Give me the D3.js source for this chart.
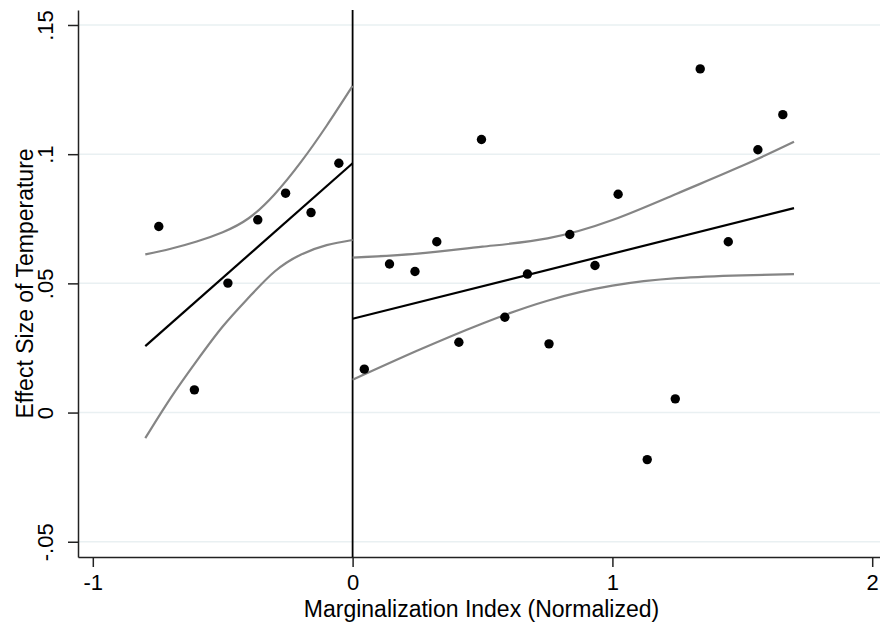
<!DOCTYPE html>
<html>
<head>
<meta charset="utf-8">
<script src="https://cdn.jsdelivr.net/npm/d3@7"></script>
<style>
	body { margin: 0; background: #fff; }
	svg { display: block; }
	text { font-family: "Liberation Sans", Arial, sans-serif; fill: #000; }
</style>
</head>
<body>
<div id="chart"></div>
<script>
// x tick values and their printed labels
let xTicks		= [-1, 0, 1, 2];
let xLabels		= ['-1', '0', '1', '2'];
let yTicks		= [-0.05, 0, 0.05, 0.1, 0.15];
let yLabels		= ['-.05', '0', '.05', '.1', '.15'];

// scatter points, below 0 and above 0
let leftX		= [-0.746, -0.609, -0.480, -0.365, -0.258, -0.160, -0.053];
let leftY		= [0.0720, 0.0088, 0.0501, 0.0746, 0.0849, 0.0774, 0.0965];
let rightX		= [0.045, 0.142, 0.240, 0.324, 0.409, 0.496, 0.586, 0.673, 0.756, 0.836, 0.933, 1.022, 1.134, 1.242, 1.338, 1.446, 1.560, 1.656];
let rightY		= [0.0168, 0.0575, 0.0546, 0.0661, 0.0272, 0.1057, 0.0369, 0.0536, 0.0266, 0.0689, 0.0569, 0.0845, -0.0182, 0.0053, 0.1330, 0.0661, 0.1017, 0.1153];

// fitted lines (end points)
let leftFitX	= [-0.798, 0];
let leftFitY	= [0.0257, 0.0965];
let rightFitX	= [0, 1.699];
let rightFitY	= [0.0363, 0.0791];

// confidence bands
let leftCiX		= [-0.798, -0.7, -0.6, -0.5, -0.4, -0.3, -0.2, -0.1, 0];
let leftCiHi	= [0.0612, 0.0634, 0.0662, 0.0698, 0.0752, 0.0845, 0.0968, 0.1110, 0.1264];
let leftCiLo	= [-0.0099, 0.0057, 0.0200, 0.0333, 0.0445, 0.0546, 0.0611, 0.0648, 0.0668];
let rightCiX	= [0, 0.25, 0.5, 0.75, 1.0, 1.25, 1.5, 1.699];
let rightCiHi	= [0.0600, 0.0615, 0.0642, 0.0674, 0.0745, 0.0848, 0.0955, 0.1048];
let rightCiLo	= [0.0127, 0.0240, 0.0345, 0.0433, 0.0491, 0.0520, 0.0531, 0.0536];

let canvasWidth		= 880;
let canvasHeight	= 627;
let margin			= { top: 10, right: 0, bottom: 70, left: 78 };
let width			= canvasWidth - margin.left - margin.right;
let height			= canvasHeight - margin.top - margin.bottom;

let x	= d3.scaleLinear().domain([-1.057, 2.03]).range([0, width]);
let y	= d3.scaleLinear().domain([-0.0559, 0.1558]).range([height, 0]);

let svg = d3.select('#chart').append('svg')
	.attr('width', canvasWidth)
	.attr('height', canvasHeight);

let canvas = svg.append('g')
	.attr('transform', 'translate(' + margin.left + ',' + margin.top + ')');

// grid lines
canvas.append('g').selectAll('line').data(yTicks).enter().append('line')
	.attr('x1', 0)
	.attr('x2', width)
	.attr('y1', d => y(d))
	.attr('y2', d => y(d))
	.style('stroke', '#e9f0f2')
	.style('stroke-width', '1.5px');

// axes
let yAxis = canvas.append('g')
	.call(d3.axisLeft(y).tickValues(yTicks).tickFormat((d, i) => yLabels[i]).tickSize(10).tickSizeOuter(0));
let xAxis = canvas.append('g')
	.attr('transform', 'translate(0,' + height + ')')
	.call(d3.axisBottom(x).tickValues(xTicks).tickFormat((d, i) => xLabels[i]).tickSize(10).tickSizeOuter(0));

[xAxis, yAxis].forEach(a => {
	a.attr('font-size', null).attr('font-family', null);
	a.select('.domain').style('stroke', '#222').style('stroke-width', '1.5px');
	a.selectAll('.tick line').style('stroke', '#222').style('stroke-width', '1.5px');
	a.selectAll('.tick text').style('font-size', '22px').style('fill', '#000');
});

xAxis.selectAll('.tick text').attr('y', 33).attr('dy', 0);
yAxis.selectAll('.tick text')
	.attr('x', 0)
	.attr('dy', 0)
	.attr('text-anchor', 'middle')
	.attr('transform', 'translate(-25,0) rotate(-90)');

// reference line at 0
canvas.append('line')
	.attr('x1', x(0))
	.attr('x2', x(0))
	.attr('y1', 0)
	.attr('y2', height)
	.style('stroke', '#000')
	.style('stroke-width', '1.8px');

// fit lines and bands
let line = d3.line().x(d => x(d[0])).y(d => y(d[1])).curve(d3.curveNatural);

function drawLine(xs, ys, color) {
	canvas.append('path')
		.datum(xs.map((v, i) => [v, ys[i]]))
		.attr('d', line)
		.style('fill', 'none')
		.style('stroke', color)
		.style('stroke-width', '2.2px');
}

drawLine(leftCiX, leftCiHi, '#858585');
drawLine(leftCiX, leftCiLo, '#858585');
drawLine(rightCiX, rightCiHi, '#858585');
drawLine(rightCiX, rightCiLo, '#858585');
drawLine(leftFitX, leftFitY, '#000');
drawLine(rightFitX, rightFitY, '#000');

// points
let points = leftX.map((v, i) => [v, leftY[i]]).concat(rightX.map((v, i) => [v, rightY[i]]));
canvas.append('g').selectAll('circle').data(points).enter().append('circle')
	.attr('cx', d => x(d[0]))
	.attr('cy', d => y(d[1]))
	.attr('r', 4.7)
	.style('fill', '#000');

// titles
svg.append('text')
	.attr('x', 481.5)
	.attr('y', 617)
	.attr('text-anchor', 'middle')
	.style('font-size', '23px')
	.text('Marginalization Index (Normalized)');

svg.append('text')
	.attr('transform', 'translate(33,' + (margin.top + height / 2) + ') rotate(-90)')
	.attr('text-anchor', 'middle')
	.style('font-size', '23px')
	.text('Effect Size of Temperature');
</script>
</body>
</html>
